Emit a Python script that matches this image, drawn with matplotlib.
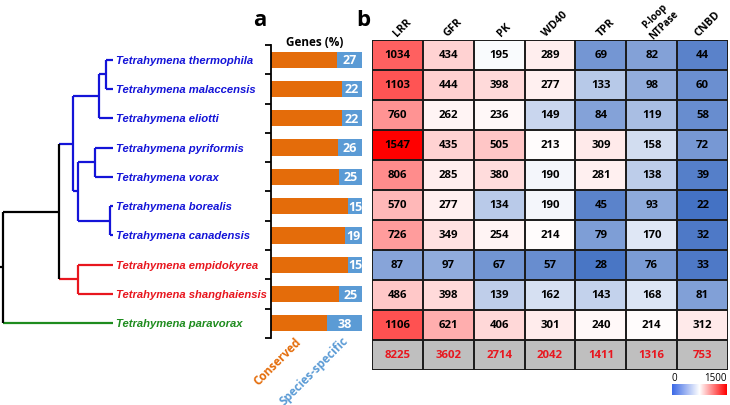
import numpy as np
import matplotlib
matplotlib.use("Agg")
import matplotlib.pyplot as plt
from matplotlib.colors import LinearSegmentedColormap, TwoSlopeNorm, Normalize, to_rgb

species = ["Tetrahymena thermophila", "Tetrahymena malaccensis", "Tetrahymena eliotti",
           "Tetrahymena pyriformis", "Tetrahymena vorax", "Tetrahymena borealis",
           "Tetrahymena canadensis", "Tetrahymena empidokyrea", "Tetrahymena shanghaiensis",
           "Tetrahymena paravorax"]
species_specific = [27, 22, 22, 26, 25, 15, 19, 15, 25, 38]
domains = ["LRR", "GFR", "PK", "WD40", "TPR", "P-loop\nNTPase", "CNBD"]
counts = [
    [1034, 434, 195, 289, 69, 82, 44],
    [1103, 444, 398, 277, 133, 98, 60],
    [760, 262, 236, 149, 84, 119, 58],
    [1547, 435, 505, 213, 309, 158, 72],
    [806, 285, 380, 190, 281, 138, 39],
    [570, 277, 134, 190, 45, 93, 22],
    [726, 349, 254, 214, 79, 170, 32],
    [87, 97, 67, 57, 28, 76, 33],
    [486, 398, 139, 162, 143, 168, 81],
    [1106, 621, 406, 301, 240, 214, 312],
]
totals = [8225, 3602, 2714, 2042, 1411, 1316, 753]

# tree topology: (node name, children); ints are leaf indices
tree = ("root", [("A", [("B", [("C", [("D", [0, 1]), 2]),
                               ("E", [("F", [3, 4]), ("G", [5, 6])])]),
                        ("H", [7, 8])]),
                 9])
node_x = {"root": 2.7, "A": 59, "B": 73, "C": 99, "D": 106, "E": 78,
          "F": 95, "G": 110, "H": 78}
tip_x = 113

BLUE, RED, GREEN = "#1414D8", "#E8161E", "#1E8C1E"
node_col = {"root": "k", "A": "k", "H": RED}
leaf_col = [BLUE] * 7 + [RED] * 2 + [GREEN]
ORANGE, SKY = "#E46C0A", "#5B9BD5"
FONT = "Open Sans"

W, H = 730, 406
fig = plt.figure(figsize=(W / 100, H / 100), dpi=100)


def px_axes(x0, y0, x1, y1):
    return fig.add_axes([x0 / W, 1 - y1 / H, (x1 - x0) / W, (y1 - y0) / H])


# ---- tree ----
axt = px_axes(0, 46, 115, 339)
axt.set_xlim(0, 115)
axt.set_ylim(9.5, -0.5)
axt.axis("off")


def draw(node, parent_x=None):
    if isinstance(node, int):
        c = leaf_col[node]
        x, y = tip_x, node
        axt.text(x + 3.5, y, species[node], color=c, fontsize=8.1, fontweight="bold",
                 fontstyle="italic", family="Liberation Sans", va="center", ha="left",
                 clip_on=False)
    else:
        name, kids = node
        c = node_col.get(name, BLUE)
        x = node_x[name]
        ys = [draw(k, x) for k in kids]
        axt.plot([x, x], [min(ys), max(ys)], color=c, lw=1.6, solid_capstyle="butt")
        y = (min(ys) + max(ys)) / 2
    x0 = 0 if parent_x is None else parent_x
    axt.plot([x0, x], [y, y], color=c, lw=1.6, solid_capstyle="butt")
    return y


draw(tree)

# ---- bars ----
axb = px_axes(271, 46, 362, 339)
rows = np.arange(len(species))
spec = np.array(species_specific)
cons = 100 - spec
axb.barh(rows, cons, height=0.55, color=ORANGE)
axb.barh(rows, spec, left=cons, height=0.55, color=SKY)
for r, s, c in zip(rows, spec, cons):
    axb.text(c + s / 2, r, str(s), color="white", fontsize=9, fontweight="bold",
             family=FONT, ha="center", va="center")
axb.set_xlim(0, 100)
axb.set_ylim(9.5, -0.5)
for sp in ["top", "right", "bottom"]:
    axb.spines[sp].set_visible(False)
axb.spines["left"].set_linewidth(1.3)
axb.set_xticks([])
axb.set_yticks(np.arange(-0.5, 10, 1))
axb.set_yticklabels([])
axb.tick_params(axis="y", length=4, width=1.3, direction="out")
fig.text(315 / W, 1 - 42 / H, "Genes (%)", fontsize=8.5, fontweight="bold", family=FONT,
         ha="center", va="center")
fig.text(304 / W, 1 - 336 / H, "Conserved", color=ORANGE, fontsize=8.5, family=FONT,
         fontweight="bold", rotation=45, ha="right", va="top")
fig.text(351 / W, 1 - 334 / H, "Species-specific", color=SKY, fontsize=8.5, family=FONT,
         fontweight="bold", rotation=45, ha="right", va="top")
fig.text(260 / W, 1 - 21 / H, "a", fontsize=16, fontweight="bold", family=FONT,
         ha="center", va="center")
fig.text(363 / W, 1 - 20 / H, "b", fontsize=16, fontweight="bold", family=FONT,
         ha="center", va="center")

# ---- heatmap ----
axh = px_axes(372, 41, 728, 371)
vals = np.array(counts, dtype=float)
cmap = LinearSegmentedColormap.from_list("bwr_x", ["#4472C4", "#FFFFFF", "#FF0000"])
norm = TwoSlopeNorm(vmin=vals.min(), vcenter=200, vmax=vals.max())
rgb = cmap(norm(vals))[:, :, :3]
gray = np.array(to_rgb("#BFBFBF"))[None, None, :].repeat(len(domains), axis=1)
img = np.concatenate([rgb, gray], axis=0)
nr, nc = img.shape[:2]
axh.imshow(img, aspect="auto", extent=(-0.5, nc - 0.5, nr - 0.5, -0.5), interpolation="nearest")
for i in range(nr + 1):
    axh.axhline(i - 0.5, color="#1a1a1a", lw=1.4)
for j in range(nc + 1):
    axh.axvline(j - 0.5, color="#1a1a1a", lw=1.4)
for i in range(len(counts)):
    for j in range(nc):
        axh.text(j, i, str(counts[i][j]), fontsize=8.2, fontweight="bold", family=FONT,
                 ha="center", va="center", color="black")
for j, t in enumerate(totals):
    axh.text(j, nr - 1, str(t), fontsize=8.2, fontweight="bold", family=FONT,
             ha="center", va="center", color="#E8161E")
axh.set_xlim(-0.5, nc - 0.5)
axh.set_ylim(nr - 0.5, -0.5)
axh.axis("off")
hdr = dict(fontweight="bold", family=FONT, rotation=45, ha="center", clip_on=False)
for j, d in enumerate(domains):
    lines = d.split("\n")
    if len(lines) == 1:
        axh.text(j + 0.1, -0.55, d, fontsize=7.8, va="bottom", **hdr)
    else:
        # two-line header: second line near the table, first line above-left of it
        axh.text(j + 0.25, -1.03, lines[1], fontsize=7.0, va="center", **hdr)
        axh.text(j + 0.07, -1.33, lines[0], fontsize=7.0, va="center", **hdr)

# ---- color legend ----
axc = px_axes(672, 385, 727, 396)
grad = np.linspace(0, 1500, 200)[None, :]
leg_cmap = LinearSegmentedColormap.from_list("leg", ["#3C6AE6", "#FFFFFF", "#FF0000"])
axc.imshow(grad, aspect="auto", cmap=leg_cmap, norm=Normalize(0, 1500))
axc.axis("off")
fig.text(674 / W, 1 - 379 / H, "0", fontsize=7, family=FONT, ha="center", va="center")
fig.text(727 / W, 1 - 379 / H, "1500", fontsize=7, family=FONT, ha="right", va="center")

fig.savefig("out.png", dpi=100)
